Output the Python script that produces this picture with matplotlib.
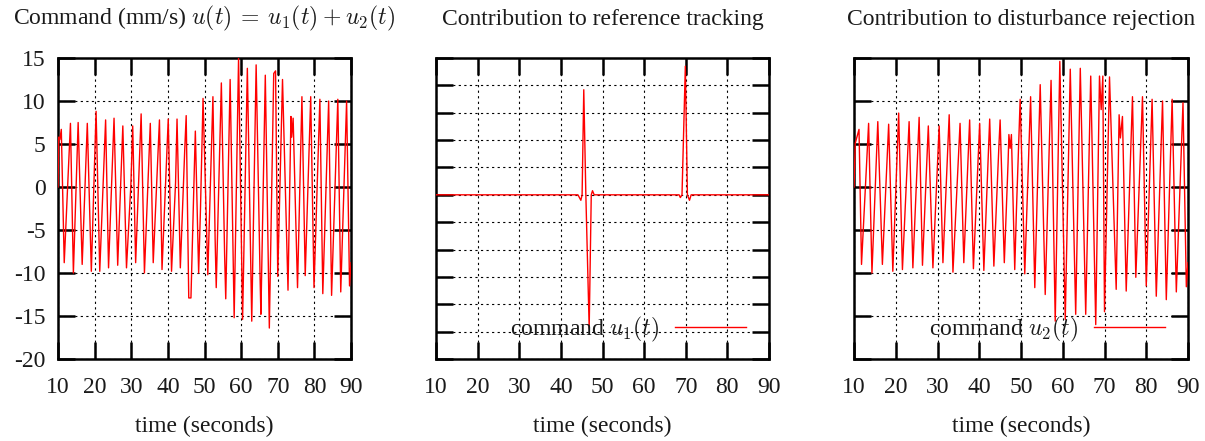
import numpy as np
import matplotlib
matplotlib.use("Agg")
import matplotlib.pyplot as plt

# total command u(t) = u1(t) + u2(t), turning points
t_u = [10.0, 10.2, 10.5, 10.9, 11.7, 13.4, 14.2, 15.5, 16.6, 18.0, 19.1, 20.4, 21.4,
       23.0, 23.8, 25.3, 26.3, 27.7, 28.7, 29.9, 30.4, 31.2, 32.7, 33.6, 35.2, 36.0,
       37.7, 38.4, 40.1, 41.0, 42.1, 42.5, 43.4, 44.6, 45.0, 45.7, 46.3, 47.2, 47.5,
       48.4, 48.9, 49.6, 50.9, 52.3, 52.9, 53.2, 54.6, 55.5, 55.8, 57.0, 58.1, 59.3,
       60.4, 61.7, 62.9, 64.1, 65.2, 65.4, 66.6, 67.7, 68.9, 69.4, 70.0, 71.3, 72.8,
       73.6, 73.8, 74.2, 75.4, 76.6, 77.5, 79.0, 79.9, 81.5, 82.3, 83.9, 84.7, 86.4,
       87.2, 88.8, 89.6, 90.0]
u = [0.0, 5.8, 5.5, 6.7, -8.8, 7.4, -10.0, 7.5, -9.0, 7.4, -9.8, 8.8, -9.8,
     7.8, -9.4, 8.0, -9.1, 7.1, -9.4, 0.3, 7.1, -8.8, 8.5, -10.0, 7.4, -8.8,
     7.8, -9.6, 7.9, -9.8, 0.5, 7.9, -9.4, 4.3, 8.3, -12.9, -12.9, 1.8, 6.5,
     -10.0, -2.6, 10.3, -10.2, 10.5, -6.0, -11.7, 12.1, -8.0, -13.0, 12.5, -15.2, 15.0,
     -15.4, 13.8, -15.6, 14.2, -11.0, -14.8, 13.0, -16.4, 13.2, 13.5, -10.4, 12.5, -12.0,
     8.2, 5.8, 8.0, -11.7, 10.5, -10.3, 10.5, -11.7, 10.2, -12.4, 10.0, -12.6, 10.2,
     -12.2, 10.0, -11.5, -8.8]

# contribution to reference tracking u1(t)
t_u1 = [10.0, 44.1, 44.8, 45.1, 45.5, 46.0, 46.8, 47.3, 47.6, 48.0,
        68.4, 68.7, 69.1, 69.9, 70.4, 70.9, 71.3, 90.0]
u1 = [0.0, 0.0, -0.2, 0.0, 3.84, 0.0, -4.87, 0.0, 0.15, 0.0,
      0.0, -0.1, 0.0, 4.7, 0.0, -0.2, 0.0, 0.0]

# contribution to disturbance rejection u2(t)
t_u2 = [10.0, 10.3, 11.2, 11.8, 13.5, 14.3, 15.7, 16.8, 18.3, 19.3, 20.7, 21.6,
        23.2, 24.1, 25.6, 26.4, 27.8, 28.9, 30.4, 31.3, 32.8, 33.7, 35.4, 36.3,
        37.7, 38.6, 40.1, 41.1, 42.5, 43.5, 44.7, 45.0, 46.0, 46.9, 47.1, 47.4, 47.7,
        48.5, 48.9, 49.8, 50.9, 52.3, 53.3, 54.6, 55.8, 57.2, 58.2, 59.3, 60.6, 61.8,
        63.1, 64.2, 65.5, 66.7, 67.9, 68.8, 69.2, 69.6, 70.0, 71.2, 72.8, 73.5, 73.8, 74.3,
        75.2, 76.7, 77.5, 79.1, 80.0, 81.4, 82.4, 83.9, 84.8, 86.2, 87.2, 88.8, 89.6, 90.0]
u2 = [0.0, 5.1, 6.7, -9.0, 7.4, -10.0, 7.6, -9.0, 7.3, -9.8, 8.6, -9.6,
      7.6, -9.4, 8.1, -9.1, 7.1, -9.4, 7.1, -8.8, 8.4, -9.9, 7.4, -8.8,
      7.8, -9.5, 7.4, -9.7, 7.9, -9.2, 4.7, 7.8, -8.8, 2.8, 6.1, 4.5, 6.1,
      -9.6, -2.8, 10.2, -10.1, 10.5, -11.7, 11.9, -12.5, 12.4, -15.6, 14.6, -15.4, 13.7,
      -14.8, 13.8, -14.8, 12.9, -16.0, 12.9, 9.0, 12.9, -14.5, 12.8, -11.9, 8.4, 5.7, 8.2,
      -12.1, 10.5, -10.5, 10.5, -11.5, 10.2, -12.7, 10.0, -13.1, 10.2, -12.2, 9.8, -11.6, -8.8]

titles = [r"Command (mm/s) $u(t)\:{=}\:u_1(t)\:{+}\:u_2(t)$",
          "Contribution to reference tracking",
          "Contribution to disturbance rejection"]

plt.rcParams["font.family"] = ["Liberation Serif", "DejaVu Serif"]
plt.rcParams["mathtext.fontset"] = "cm"
plt.rcParams["axes.unicode_minus"] = False
fs = 17
ink = "#1a1a1a"

fig = plt.figure(figsize=(12.05, 4.41), dpi=100)
H = 441.0
W = 1205.0
boxes = [(58, 293), (436, 333), (854, 334)]
axes = []
for left, width in boxes:
    axes.append(fig.add_axes([left / W, (H - 359) / H, width / W, 301 / H]))

series = [(t_u, u, None), (t_u1, u1, "command $u_1(t)$"), (t_u2, u2, "command $u_2(t)$")]

for i, ax in enumerate(axes):
    tt, vv, lab = series[i]
    ax.plot(tt, vv, color="#ff0000", lw=1.0, label=lab, zorder=3)
    ax.set_xlim(10, 90)
    ax.set_xticks(np.arange(10, 91, 10))
    if i == 1:
        ax.set_ylim(-6, 5)
        ax.set_yticks(np.arange(-6, 6, 1))
        ax.set_yticklabels([])
    else:
        ax.set_ylim(-20, 15)
        ax.set_yticks(np.arange(-20, 16, 5))
        if i == 2:
            ax.set_yticklabels([])
    ax.grid(True, color="black", lw=0.8, linestyle=(0, (2, 3)))
    ax.tick_params(direction="in", length=12, width=1.8, top=True, right=True,
                   colors="black", labelcolor=ink, labelsize=fs)
    ax.tick_params(axis="x", pad=13)
    ax.tick_params(axis="y", pad=9)
    for sp in ax.spines.values():
        sp.set_linewidth(1.8)
    ax.set_xlabel("time (seconds)", color=ink, labelpad=13, fontsize=fs)
    ax.set_title(titles[i], color=ink, pad=24, fontsize=fs)
    if lab:
        ax.legend(loc="center right", bbox_to_anchor=(0.931, 0.0997), frameon=False,
                  markerfirst=False, handlelength=3.0, handletextpad=0.7,
                  borderpad=0, borderaxespad=0, fontsize=fs, labelcolor=ink)

fig.savefig("out.png", dpi=100)
